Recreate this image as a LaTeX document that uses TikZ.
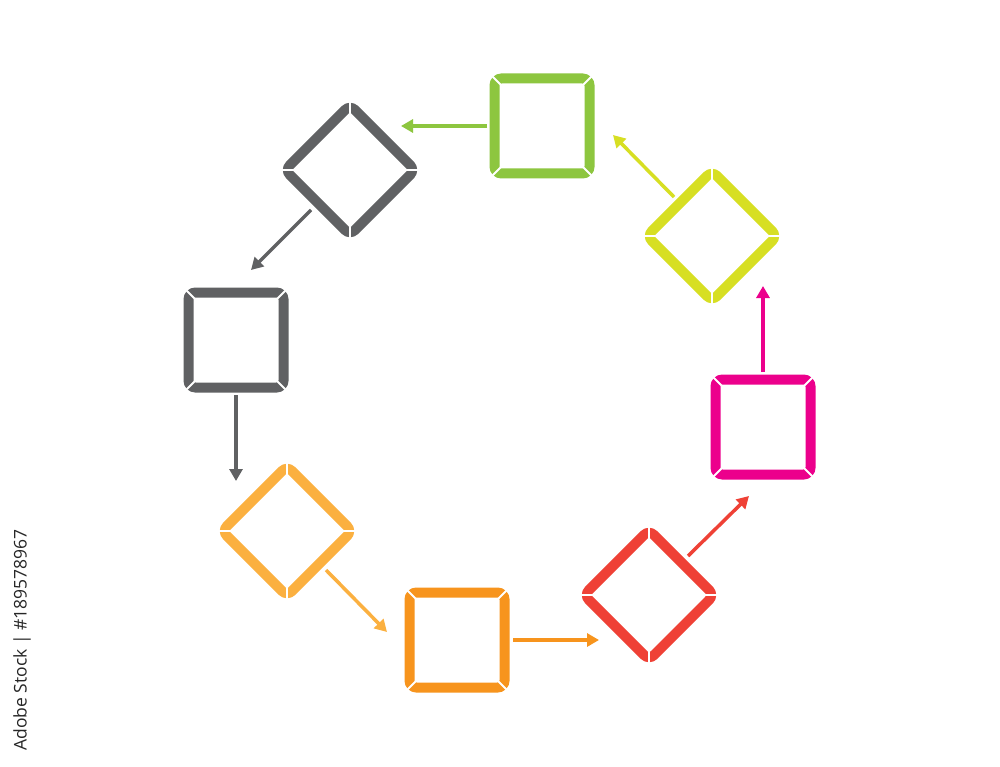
\documentclass[tikz,border=0pt]{standalone}
\usepackage{fontspec}
\setmainfont{Open Sans}
\usetikzlibrary{arrows.meta}
\definecolor{cgreen}{RGB}{141,198,63}
\definecolor{cgray}{RGB}{96,97,99}
\definecolor{clorange}{RGB}{251,176,64}
\definecolor{corange}{RGB}{247,148,29}
\definecolor{cred}{RGB}{239,65,54}
\definecolor{cmag}{RGB}{236,0,140}
\definecolor{cyel}{RGB}{215,223,35}
\newcommand\stepframe[5]{% x, y, rotation, color, half size of centre line
  \begin{scope}[shift={(#1,#2)},rotate=#3]
    \draw[line width=10pt,draw=#4,rounded corners=7pt] (-#5,-#5) rectangle (#5,#5);
    \foreach \a in {45,135,225,315} \draw[white,line width=2pt] (\a:54) -- (\a:78);
  \end{scope}}
\begin{document}
\begin{tikzpicture}[x=1pt,y=-1pt,
  flow/.style={line width=3.5pt,-{Triangle[length=12pt,width=13pt]}}]
\useasboundingbox[fill=white] (0,0) rectangle (1000,767);
% boxes
\stepframe{542}{126}{0}{cgreen}{47.5}
\stepframe{350}{170}{45}{cgray}{46}
\stepframe{236}{340}{0}{cgray}{47.5}
\stepframe{287}{531}{45}{clorange}{46}
\stepframe{457}{640}{0}{corange}{47.5}
\stepframe{649}{595}{45}{cred}{46}
\stepframe{763}{427}{0}{cmag}{47.5}
\stepframe{712}{236}{45}{cyel}{46}
% connector end points
\coordinate (g1) at (487,126);   \coordinate (g2) at (401,126);
\coordinate (d1) at (311,210);   \coordinate (d2) at (251,270);
\coordinate (s1) at (236,395);   \coordinate (s2) at (236,481);
\coordinate (l1) at (326,570);   \coordinate (l2) at (387,632);
\coordinate (o1) at (513,640);   \coordinate (o2) at (599,640);
\coordinate (r1) at (688,556);   \coordinate (r2) at (749,496);
\coordinate (m1) at (763,372);   \coordinate (m2) at (763,286);
\coordinate (y1) at (674,197);   \coordinate (y2) at (613,135);
\draw[flow,cgreen] (g1) -- (g2);
\draw[flow,cgray] (d1) -- (d2);
\draw[flow,cgray] (s1) -- (s2);
\draw[flow,clorange] (l1) -- (l2);
\draw[flow,corange] (o1) -- (o2);
\draw[flow,cred] (r1) -- (r2);
\draw[flow,cmag] (m1) -- (m2);
\draw[flow,cyel] (y1) -- (y2);
\node (wm) [rotate=90,anchor=center,text=black!85,font=\fontsize{17.5}{20}\selectfont,inner sep=0pt] at (22,640) {Adobe Stock | \#189578967};
\end{tikzpicture}
\end{document}
